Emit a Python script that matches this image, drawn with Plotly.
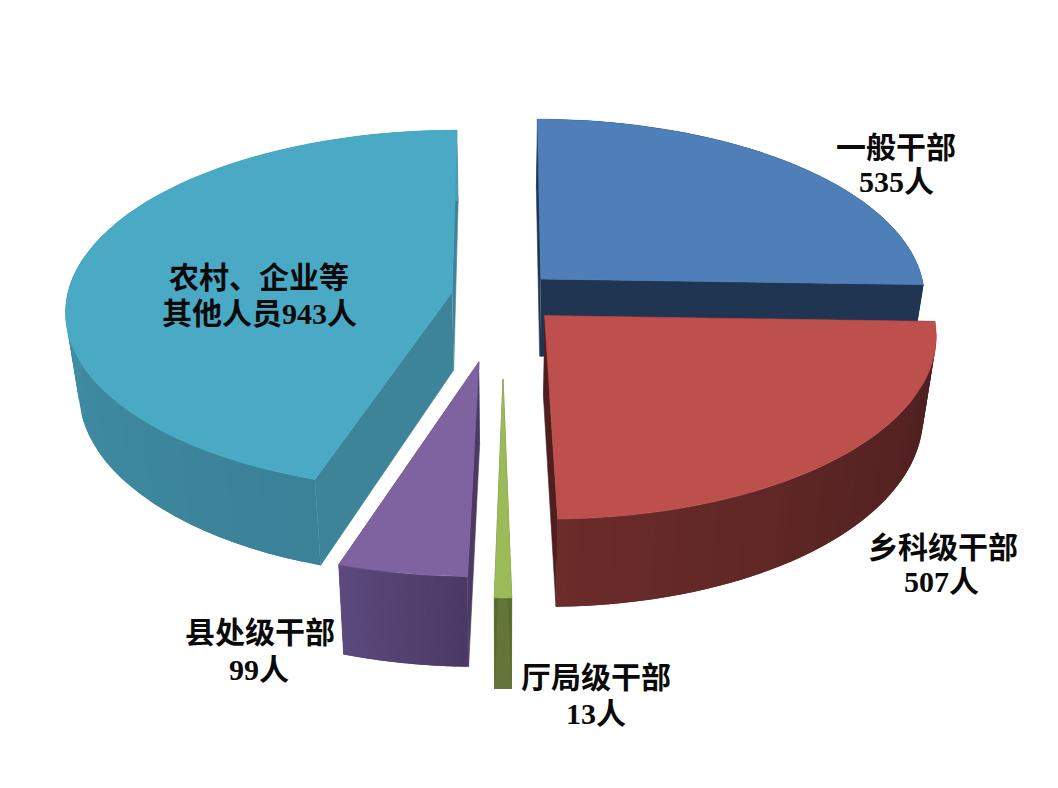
import numpy as np
import plotly.graph_objects as go

names = ['一般干部', '乡科级干部', '厅局级干部', '县处级干部', '农村、企业等其他人员']
values = [535, 507, 13, 99, 943]
pulls = [0.138, 0.152, 0.443, 0.36, 0.134]

top_colors = ['#4f7fb9', '#bd4f4c', '#9bbb59', '#7f63a0', '#4aa9c4']
rim_colors = [((31, 53, 82), (31, 53, 82)),
              ((74, 31, 31), (107, 44, 42)),
              ((91, 109, 47), (91, 109, 47)),
              ((76, 58, 101), (93, 74, 126)),
              ((58, 130, 152), (74, 157, 181))]
edge_colors = ['#1f3552', '#4f1f1f', '#5b6d2f', '#4c3a65', '#3d8499']
# label lines, with the pixel centre of each line
label_lines = [
    [('一般干部', 896, 147), ('{}人', 896, 181)],
    [('乡科级干部', 943, 547), ('{}人', 941, 581)],
    [('厅局级干部', 596, 677), ('{}人', 596, 713)],
    [('县处级干部', 260, 632), ('{}人', 259, 669)],
    [('农村、企业等', 259, 277), ('其他人员{}人', 259, 313)],
]

# view of the tilted disc
CX, CY = 503, 296
RX, RY = 385, 179
PERSP = 0.1
DEPTH = 78
SHRINK = 0.97
# the page keeps the browser's default body margin
PAGE_MARGIN = 8


def project(wx, wy):
    d = 1 + PERSP * wy
    return CX + RX * wx / d, CY - RY * wy / d


def lower(x, y, wy):
    d = 1 + PERSP * wy
    return CX + (x - CX) * SHRINK, y + DEPTH / d


def add_poly(fig, xs, ys, color, width=0.6):
    fig.add_trace(go.Scatter(x=xs, y=ys, mode='lines', fill='toself', fillcolor=color,
                             line=dict(color=color, width=width), hoverinfo='skip',
                             showlegend=False))


def draw_slice(fig, i, start, end):
    mid = (start + end) / 2
    ox, oy = pulls[i] * np.sin(mid), pulls[i] * np.cos(mid)
    th = np.linspace(start, end, 60)
    wx, wy = ox + np.sin(th), oy + np.cos(th)
    ax, ay = project(wx, wy)
    bx, by = lower(ax, ay, wy)
    # flat cut walls
    px, py = project(np.array([ox]), np.array([oy]))
    qx, qy = lower(px, py, np.array([oy]))
    add_poly(fig, [px[0], ax[-1], bx[-1], qx[0]], [py[0], ay[-1], by[-1], qy[0]], edge_colors[i])
    add_poly(fig, [px[0], ax[0], bx[0], qx[0]], [py[0], ay[0], by[0], qy[0]], edge_colors[i])
    # outer wall, in overlapping strips so it can shade along the arc
    c0, c1 = rim_colors[i]
    for k in range(len(th) - 1):
        f = k / (len(th) - 2)
        c = [int(c0[n] + (c1[n] - c0[n]) * f) for n in range(3)]
        e = min(k + 3, len(th))
        add_poly(fig, [*ax[k:e], *bx[k:e][::-1]], [*ay[k:e], *by[k:e][::-1]],
                 'rgb({},{},{})'.format(*c), width=0)
    # top face
    add_poly(fig, [px[0], *ax, px[0]], [py[0], *ay, py[0]], top_colors[i])


fig = go.Figure()
total = sum(values)
angles = np.concatenate([[0], np.cumsum(values)]) / total * 2 * np.pi

for i in [0, 4, 3, 2, 1]:
    draw_slice(fig, i, angles[i], angles[i + 1])

for i, lines in enumerate(label_lines):
    for text, x, y in lines:
        fig.add_annotation(x=x, y=y, text=text.format(values[i]), showarrow=False,
                           xanchor='center', yanchor='middle',
                           font=dict(family='"Liberation Serif", "Noto Sans CJK SC"', size=30,
                                     color='#0a0a0a', weight=700))

fig.update_layout(
    width=1058 - PAGE_MARGIN, height=788 - PAGE_MARGIN,
    margin=dict(l=0, r=0, t=0, b=0),
    paper_bgcolor='white', plot_bgcolor='white',
    xaxis=dict(range=[PAGE_MARGIN, 1058], visible=False, fixedrange=True),
    yaxis=dict(range=[788, PAGE_MARGIN], visible=False, fixedrange=True),
    showlegend=False)

fig.write_html("out.html")
